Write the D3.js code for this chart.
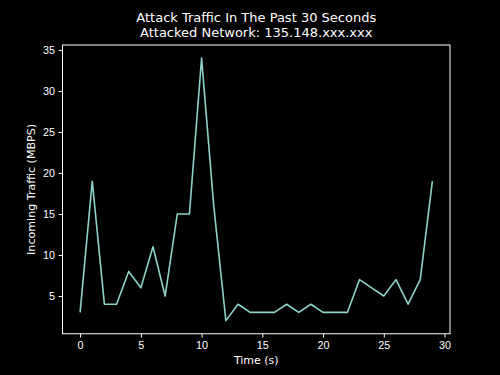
<!DOCTYPE html>
<html lang="en">
<head>
<meta charset="UTF-8" />
<title>Attack Traffic</title>
<script src="https://d3js.org/d3.v7.min.js"></script>
<style>
  body { margin: 0; background: #000; }
  svg { display: block; font-family: "DejaVu Sans", sans-serif; }
  .axis path, .axis line { stroke: #fff; stroke-width: 1; }
  .axis text { fill: #fff; font-size: 10.8px; }
</style>
</head>
<body>
<svg id="chart"></svg>
<script>
  // seconds 0..29 and incoming traffic in MBPS
  const seconds = d3.range(0, 30);
  const traffic = [3, 19, 4, 4, 8, 6, 11, 5, 15, 15, 34, 16, 2, 4, 3, 3, 3, 4, 3, 4,
                   3, 3, 3, 7, 6, 5, 7, 4, 7, 19];
  const xTicks = [0, 5, 10, 15, 20, 25, 30];
  const yTicks = [5, 10, 15, 20, 25, 30, 35];

  const W = 500, H = 375;
  const margin = { top: 45, right: 50, bottom: 41.25, left: 62.5 };
  const width = W - margin.left - margin.right;
  const height = H - margin.top - margin.bottom;

  const svg = d3.select("#chart").attr("width", W).attr("height", H);
  svg.append("rect").attr("width", W).attr("height", H).attr("fill", "#000");
  const g = svg.append("g").attr("transform", `translate(${margin.left},${margin.top})`);

  const xPad = (d3.max(seconds) - d3.min(seconds)) * 0.05;
  const x = d3.scaleLinear()
    .domain([d3.min(seconds) - xPad, d3.max(seconds) + xPad])
    .range([0, width]);
  const yPad = (d3.max(traffic) - d3.min(traffic)) * 0.05;
  const y = d3.scaleLinear()
    .domain([d3.min(traffic) - yPad, d3.max(traffic) + yPad])
    .range([height, 0]);

  g.append("g")
    .attr("class", "axis")
    .attr("transform", `translate(0,${height})`)
    .call(d3.axisBottom(x).tickValues(xTicks).tickSize(3.8).tickPadding(3.8).tickSizeOuter(0))
    .call(a => a.select(".domain").remove());

  g.append("g")
    .attr("class", "axis")
    .call(d3.axisLeft(y).tickValues(yTicks).tickSize(3.8).tickPadding(3.8).tickSizeOuter(0))
    .call(a => a.select(".domain").remove());

  // frame
  g.append("rect")
    .attr("width", width).attr("height", height)
    .attr("fill", "none").attr("stroke", "#fff").attr("stroke-width", 1);

  const line = d3.line()
    .x((d, i) => x(seconds[i]))
    .y(d => y(d));

  g.append("path")
    .datum(traffic)
    .attr("d", line)
    .attr("fill", "none")
    .attr("stroke", "#8dd3c7")
    .attr("stroke-width", 1.6)
    .attr("stroke-linejoin", "round");

  // labels
  svg.append("text")
    .attr("x", margin.left + width / 2).attr("y", 364)
    .attr("text-anchor", "middle").attr("fill", "#fff").attr("font-size", 11)
    .text("Time (s)");

  svg.append("text")
    .attr("transform", `translate(34.5,${margin.top + height / 2}) rotate(-90)`)
    .attr("text-anchor", "middle").attr("fill", "#fff").attr("font-size", 11.1)
    .text("Incoming Traffic (MBPS)");

  const title = ["Attack Traffic In The Past 30 Seconds", "Attacked Network: 135.148.xxx.xxx"];
  svg.selectAll(".title")
    .data(title)
    .join("text")
    .attr("class", "title")
    .attr("x", margin.left + width / 2)
    .attr("y", (d, i) => 21.5 + i * 15.8)
    .attr("text-anchor", "middle").attr("fill", "#fff").attr("font-size", 13)
    .text(d => d);
</script>
</body>
</html>
